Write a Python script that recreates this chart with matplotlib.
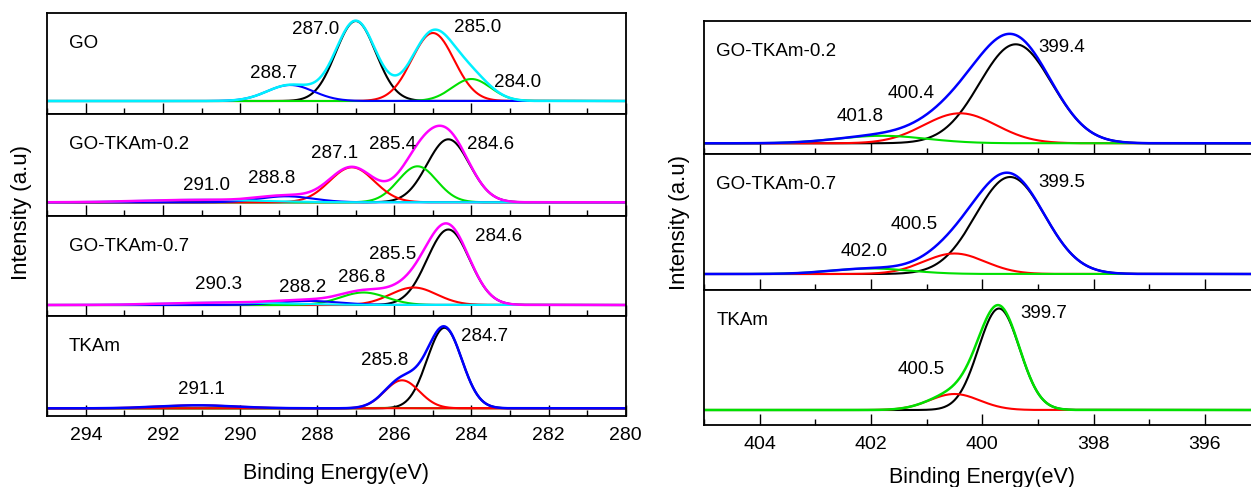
import numpy as np
import matplotlib.pyplot as plt
from matplotlib.ticker import MultipleLocator

plt.rcParams['font.family'] = ['Liberation Sans', 'DejaVu Sans']

GREEN = '#00e000'
CYAN = '#00f0ff'
MAGENTA = '#ff00ff'

# ---- C1s panels (left) ----
# each component: center (eV), height, width (sigma), colour; listed in drawing order
go_center = [287.0, 285.0, 284.0, 288.7]
go_height = [80, 68, 22, 16]
go_sigma = [0.52, 0.55, 0.5, 0.6]
go_color = ['black', 'red', GREEN, 'blue']

c02_center = [284.6, 285.4, 287.1, 288.8, 291.0]
c02_height = [63, 36, 35, 6, 2.5]
c02_sigma = [0.55, 0.5, 0.58, 0.7, 1.5]
c02_color = ['black', GREEN, 'red', 'blue', CYAN]

c07_center = [284.6, 285.5, 286.8, 288.2, 290.3]
c07_height = [75.5, 17.5, 12.5, 4, 2.5]
c07_sigma = [0.55, 0.6, 0.6, 0.8, 1.5]
c07_color = ['black', 'red', GREEN, 'blue', CYAN]

ctk_center = [284.7, 286.0, 285.8, 291.1]
ctk_height = [80.5, 0.4, 28, 3]
ctk_sigma = [0.45, 0.5, 0.45, 1.0]
ctk_color = ['black', GREEN, 'red', 'red']

c_names = ['GO', 'GO-TKAm-0.2', 'GO-TKAm-0.7', 'TKAm']
c_total_color = [CYAN, MAGENTA, MAGENTA, 'blue']

go_labels = [(288.04, 71, '287.0'), (283.83, 73.7, '285.0'), (289.14, 27, '288.7'), (282.81, 18.3, '284.0')]
c02_labels = [(287.56, 49, '287.1'), (286.04, 58, '285.4'), (283.5, 58, '284.6'), (289.17, 24, '288.8'), (290.88, 17, '291.0')]
c07_labels = [(283.29, 68, '284.6'), (286.04, 50, '285.5'), (286.86, 27, '286.8'), (288.39, 18, '288.2'), (290.55, 20.7, '290.3')]
ctk_labels = [(283.65, 72, '284.7'), (286.24, 48, '285.8'), (290.99, 19, '291.1')]

# ---- N1s panels (right) ----
n02_center = [399.4, 400.4, 401.8]
n02_height = [99, 30, 7.5]
n02_sigma = [0.65, 0.65, 0.8]
n02_color = ['black', 'red', GREEN]

n07_center = [399.5, 400.5, 402.0]
n07_height = [97, 20.5, 5.5]
n07_sigma = [0.62, 0.55, 0.7]
n07_color = ['black', 'red', GREEN]

ntk_center = [399.7, 400.5]
ntk_height = [101.5, 16]
ntk_sigma = [0.37, 0.45]
ntk_color = ['black', 'red']

n_names = ['GO-TKAm-0.2', 'GO-TKAm-0.7', 'TKAm']
n_total_color = ['blue', 'blue', GREEN]

n02_labels = [(398.58, 95.7, '399.4'), (401.27, 50, '400.4'), (402.19, 27, '401.8')]
n07_labels = [(398.58, 91.3, '399.5'), (401.23, 50, '400.5'), (402.12, 22, '402.0')]
ntk_labels = [(398.9, 96.7, '399.7'), (401.1, 40, '400.5')]


def gauss(x, c, h, s):
    return h * np.exp(-(x - c) ** 2 / (2 * s ** 2))


W, H = 1251, 487
fig = plt.figure(figsize=(W / 100, H / 100), dpi=100)


def px_axes(x0, x1, y0, y1):
    return fig.add_axes([x0 / W, 1 - y1 / H, (x1 - x0) / W, (y1 - y0) / H])


def draw_panel(ax, x, centers, heights, sigmas, colors, total_color, ylim, name, name_x, labels, bottom):
    total = np.zeros_like(x)
    for c, h, s, col in zip(centers, heights, sigmas, colors):
        y = gauss(x, c, h, s)
        total += y
        ax.plot(x, y, color=col, lw=1.5)
    ax.plot(x, total, color=total_color, lw=1.8)
    ax.set_ylim(*ylim)
    ax.set_yticks([])
    ax.text(name_x, ylim[1] - 30.5, name, fontsize=13.5, ha='left', va='center')
    for lx, ly, t in labels:
        ax.text(lx, ly, t, fontsize=13.5, ha='center', va='center')
    ax.xaxis.set_major_locator(MultipleLocator(2))
    ax.xaxis.set_minor_locator(MultipleLocator(1))
    ax.tick_params(axis='x', which='major', direction='in', length=8, width=1, labelsize=14, pad=8)
    ax.tick_params(axis='x', which='minor', direction='in', length=4, width=1)
    if not bottom:
        ax.tick_params(axis='x', which='both', labelbottom=False)
    for sp in ax.spines.values():
        sp.set_linewidth(1.3)


# left column
xc = np.linspace(280, 295, 800)
c_rows = [(12.7, 114), (114, 216), (216, 316), (316, 416)]
c_ylims = [(-13, 88.3), (-13.7, 88.3), (-11, 89), (-7.7, 92.3)]
c_data = [
    (go_center, go_height, go_sigma, go_color, go_labels),
    (c02_center, c02_height, c02_sigma, c02_color, c02_labels),
    (c07_center, c07_height, c07_sigma, c07_color, c07_labels),
    (ctk_center, ctk_height, ctk_sigma, ctk_color, ctk_labels),
]
for i, (row, yl, d) in enumerate(zip(c_rows, c_ylims, c_data)):
    ax = px_axes(47.3, 625.7, row[0], row[1])
    ax.set_xlim(295, 280)
    draw_panel(ax, xc, d[0], d[1], d[2], d[3], c_total_color[i], yl, c_names[i], 294.44, d[4], i == 3)

# right column
xn = np.linspace(393, 406, 800)
n_rows = [(21, 154.3), (154.3, 290), (290, 425)]
n_ylims = [(-11, 122.3), (-16, 119.7), (-15, 120)]
n_data = [
    (n02_center, n02_height, n02_sigma, n02_color, n02_labels),
    (n07_center, n07_height, n07_sigma, n07_color, n07_labels),
    (ntk_center, ntk_height, ntk_sigma, ntk_color, ntk_labels),
]
for i, (row, yl, d) in enumerate(zip(n_rows, n_ylims, n_data)):
    ax = px_axes(704, 1260.6, row[0], row[1])
    ax.set_xlim(405, 395)
    draw_panel(ax, xn, d[0], d[1], d[2], d[3], n_total_color[i], yl, n_names[i], 404.78, d[4], i == 2)

fig.text(336.5 / W, 1 - 473 / H, 'Binding Energy(eV)', fontsize=15.5, ha='center', va='center')
fig.text(982 / W, 1 - 477 / H, 'Binding Energy(eV)', fontsize=15.5, ha='center', va='center')
fig.text(21.7 / W, 1 - 212 / H, 'Intensity (a.u)', fontsize=16, ha='center', va='center', rotation=90)
fig.text(680 / W, 1 - 222 / H, 'Intensity (a.u)', fontsize=16, ha='center', va='center', rotation=90)

fig.savefig('out.png', dpi=100)
